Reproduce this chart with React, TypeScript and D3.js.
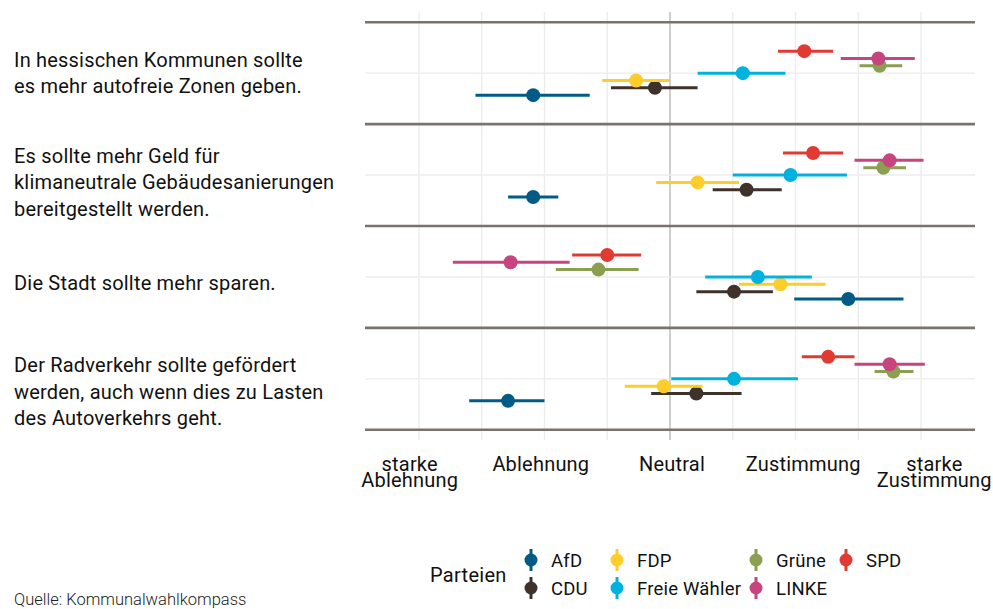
import React, { useEffect, useRef } from 'react';
import * as d3 from 'd3';

const parties = ['AfD', 'CDU', 'FDP', 'Freie Wähler', 'Grüne', 'LINKE', 'SPD'];
const partyColors = ['#005b86', '#3e322b', '#fdcd2c', '#00b2dd', '#8a9f4f', '#c7457f', '#e03a33'];

const questions = [
  ['In hessischen Kommunen sollte', 'es mehr autofreie Zonen geben.'],
  ['Es sollte mehr Geld für', 'klimaneutrale Gebäudesanierungen', 'bereitgestellt werden.'],
  ['Die Stadt sollte mehr sparen.'],
  ['Der Radverkehr sollte gefördert', 'werden, auch wenn dies zu Lasten', 'des Autoverkehrs geht.'],
];

// mean and interval per question, parties in the order above
const autofreiMean = [-1.09, -0.12, -0.27, 0.58, 1.67, 1.66, 1.07];
const autofreiLow = [-1.55, -0.47, -0.54, 0.22, 1.51, 1.36, 0.86];
const autofreiHigh = [-0.64, 0.22, 0.0, 0.92, 1.85, 1.95, 1.3];

const gebaeudeMean = [-1.09, 0.61, 0.22, 0.96, 1.7, 1.75, 1.14];
const gebaeudeLow = [-1.29, 0.34, -0.11, 0.5, 1.54, 1.47, 0.9];
const gebaeudeHigh = [-0.89, 0.89, 0.55, 1.41, 1.88, 2.02, 1.38];

const sparenMean = [1.42, 0.51, 0.88, 0.7, -0.57, -1.27, -0.5];
const sparenLow = [0.99, 0.21, 0.55, 0.28, -0.91, -1.73, -0.78];
const sparenHigh = [1.86, 0.82, 1.24, 1.13, -0.25, -0.8, -0.23];

const radMean = [-1.29, 0.21, -0.05, 0.51, 1.78, 1.75, 1.26];
const radLow = [-1.6, -0.15, -0.36, 0.01, 1.63, 1.47, 1.05];
const radHigh = [-1.0, 0.57, 0.26, 1.02, 1.94, 2.03, 1.47];

const means = [autofreiMean, gebaeudeMean, sparenMean, radMean];
const lows = [autofreiLow, gebaeudeLow, sparenLow, radLow];
const highs = [autofreiHigh, gebaeudeHigh, sparenHigh, radHigh];

const tickValues = [-2, -1, 0, 1, 2];
const tickLabels = [['starke', 'Ablehnung'], ['Ablehnung'], ['Neutral'], ['Zustimmung'], ['starke', 'Zustimmung']];

const FONT = 'Roboto, "Liberation Sans", sans-serif';

function App() {
  const ref = useRef(null);

  useEffect(() => {
    const svg = d3.select(ref.current);
    svg.selectAll('*').remove();
    const width = 993;
    const height = 609;
    const margin = { top: 12, right: 18, left: 365, bottom: 169 };

    const x = d3.scaleLinear().domain([-2.43, 2.43]).range([margin.left, width - margin.right]);
    const y = d3.scaleLinear().domain([-0.6, 3.6]).range([margin.top, height - margin.bottom]);
    const dodge = 0.072;

    // grid
    const grid = svg.append('g');
    const minor = d3.range(-2.5, 2.51, 0.5).filter(v => x(v) > margin.left && x(v) < width - margin.right);
    grid
      .selectAll('line.v')
      .data(minor)
      .join('line')
      .attr('x1', d => x(d))
      .attr('x2', d => x(d))
      .attr('y1', margin.top)
      .attr('y2', height - margin.bottom)
      .attr('stroke', d => (d === 0 ? '#c9c9c9' : '#ececec'))
      .attr('stroke-width', d => (d === 0 ? 1.8 : 1.4));

    grid
      .selectAll('line.h')
      .data(questions.map((q, i) => i))
      .join('line')
      .attr('x1', margin.left)
      .attr('x2', width - margin.right)
      .attr('y1', d => y(d))
      .attr('y2', d => y(d))
      .attr('stroke', '#ececec')
      .attr('stroke-width', 1.4);

    grid
      .selectAll('line.sep')
      .data(d3.range(-0.5, 3.51, 1))
      .join('line')
      .attr('x1', margin.left)
      .attr('x2', width - margin.right)
      .attr('y1', d => y(d))
      .attr('y2', d => y(d))
      .attr('stroke', '#7b726c')
      .attr('stroke-width', 2.6);

    // point ranges
    const marks = svg.append('g');
    questions.forEach((q, qi) => {
      parties.forEach((p, pi) => {
        const cy = y(qi + (3 - pi) * dodge);
        marks
          .append('line')
          .attr('x1', x(lows[qi][pi]))
          .attr('x2', x(highs[qi][pi]))
          .attr('y1', cy)
          .attr('y2', cy)
          .attr('stroke', partyColors[pi])
          .attr('stroke-width', 3);
        marks
          .append('circle')
          .attr('cx', x(means[qi][pi]))
          .attr('cy', cy)
          .attr('r', 7)
          .attr('fill', partyColors[pi]);
      });
    });

    // question labels
    const nudge = [0, 7, 6, 13];
    const lineH = 26.5;
    questions.forEach((q, qi) => {
      const t = svg
        .append('text')
        .attr('x', 14)
        .attr('font-family', FONT)
        .attr('font-size', 20)
        .attr('letter-spacing', 0.2)
        .attr('fill', '#111');
      const first = y(qi) + nudge[qi] - ((q.length - 1) / 2) * lineH + 7;
      q.forEach((line, li) => {
        t.append('tspan').attr('x', 14).attr('y', first + li * lineH).text(line);
      });
    });

    // x axis labels (spread slightly wider than the ticks, as in the original)
    const labelX = v => x(v * 1.045) + 2;
    tickValues.forEach((v, i) => {
      const t = svg
        .append('text')
        .attr('text-anchor', 'middle')
        .attr('font-family', FONT)
        .attr('font-size', 20)
        .attr('letter-spacing', 0.2)
        .attr('fill', '#111');
      tickLabels[i].forEach((line, li) => {
        t.append('tspan').attr('x', labelX(v)).attr('y', 471 + li * 16).text(line);
      });
    });

    // legend
    const legend = svg.append('g').attr('font-family', FONT).attr('fill', '#111');
    legend
      .append('text')
      .attr('x', 430)
      .attr('y', 582)
      .attr('font-size', 20)
      .attr('letter-spacing', 0.3)
      .text('Parteien');
    const colX = [531, 617, 756, 846];
    const rowY = [560, 588];
    parties.forEach((p, i) => {
      const cx = colX[Math.floor(i / 2)];
      const cy = rowY[i % 2];
      legend
        .append('line')
        .attr('x1', cx)
        .attr('x2', cx)
        .attr('y1', cy - 11)
        .attr('y2', cy + 11)
        .attr('stroke', partyColors[i])
        .attr('stroke-width', 3);
      legend.append('circle').attr('cx', cx).attr('cy', cy).attr('r', 6.5).attr('fill', partyColors[i]);
      legend
        .append('text')
        .attr('x', cx + 20)
        .attr('y', cy + 6.5)
        .attr('font-size', 18.5)
        .attr('letter-spacing', 0.2)
        .text(p);
    });

    svg
      .append('text')
      .attr('x', 14)
      .attr('y', 605)
      .attr('font-family', FONT)
      .attr('font-weight', 300)
      .attr('font-size', 16.5)
      .attr('fill', '#222')
      .text('Quelle: Kommunalwahlkompass');
  });

  return (
    <div style={{ position: 'absolute', left: 0, top: 0 }}>
      <svg ref={ref} width="993" height="609" style={{ display: 'block', background: '#fff' }} />
    </div>
  );
}

export default App;
